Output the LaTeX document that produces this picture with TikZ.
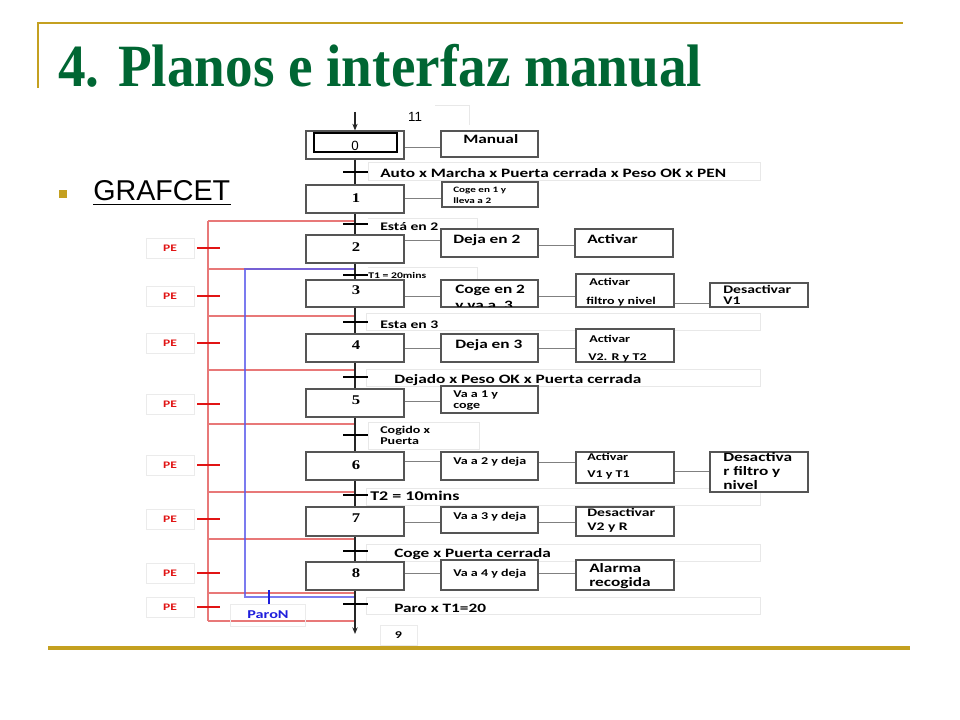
\documentclass[tikz,border=0pt]{standalone}
\usepackage{fontspec}
\setmainfont{Liberation Serif}
\newfontfamily\cbf[FakeStretch=1.35]{Carlito}
\newfontfamily\arl{Liberation Sans}
\newfontfamily\stepf[FakeStretch=1.25]{Liberation Serif}
\newfontfamily\titlef[FakeStretch=0.92]{Liberation Serif}
\usetikzlibrary{arrows.meta,fit}
\definecolor{gold}{RGB}{196,160,32}
\definecolor{tgreen}{RGB}{0,102,51}
\definecolor{redlite}{RGB}{232,120,120}
\definecolor{redtk}{RGB}{225,20,20}
\definecolor{bluelc}{RGB}{90,90,235}
\definecolor{bluetk}{RGB}{30,30,220}
\definecolor{boxc}{RGB}{85,85,85}
\newcommand{\txA}{\cbf\bfseries\fontsize{9.6}{11}\selectfont}
\newcommand{\txB}{\cbf\bfseries\fontsize{8.7}{10}\selectfont}
\newcommand{\txC}{\cbf\bfseries\fontsize{7.8}{9}\selectfont}
\newcommand{\txD}{\cbf\bfseries\fontsize{6.2}{7.5}\selectfont}
\newcommand{\txE}{\cbf\bfseries\fontsize{6.5}{8}\selectfont}
\newcommand{\txS}{\stepf\bfseries\fontsize{10}{12}\selectfont}
\begin{document}
\begin{tikzpicture}[x=0.75pt,y=-0.75pt,
  boxs/.style={draw=boxc, fill=white, line width=0.9pt, inner sep=0pt},
  faintb/.style={draw=black!9, line width=0.6pt},
  txt/.style={anchor=base west, inner sep=0pt},
  conn/.style={draw=black!50, line width=0.7pt},
  mainl/.style={draw=black!85, line width=0.9pt},
  ttick/.style={draw=black, line width=1.6pt},
  redl/.style={draw=redlite, line width=0.8pt},
  redt/.style={draw=redtk, line width=1.6pt},
  blueln/.style={draw=bluelc, line width=0.9pt},
  pebox/.style={draw=black!8, line width=0.6pt, minimum width=36pt, minimum height=15pt, inner sep=0pt, text=redtk, font=\cbf\bfseries\fontsize{7.5}{9}\selectfont},
  numlab/.style={inner sep=0pt, font=\txS},
  tip/.style={-{Stealth[length=5pt,width=4pt]}}
]
\useasboundingbox (0,0) rectangle (960,720);
\fill[white] (0,0) rectangle (960,720);

% slide decoration
\draw[gold, line width=1.6pt] (38,23) -- (903,23);
\draw[gold, line width=1.6pt] (38,22.5) -- (38,88);
\draw[gold, line width=2.4pt] (48,648) -- (910,648);
\node[anchor=base west, inner sep=0pt, text=tgreen] (title) at (58,87)
  {\titlef\bfseries\fontsize{45}{50}\selectfont 4. Planos e interfaz manual};
\fill[gold] (59,190) rectangle (67,198);
\node[anchor=base west, inner sep=0pt] (graf) at (93,201) {\arl\fontsize{21.5}{25}\selectfont GRAFCET};
\draw[line width=1.3pt] ([yshift=-2.6pt]graf.base west) -- ([yshift=-2.6pt]graf.base east);

% faint text frames of transitions
\draw[faintb] (368,162) rectangle (760,180);
\draw[faintb] (368,218) -- (477,218) -- (477,229);
\draw[faintb] (368,267) -- (477,267) -- (477,279);
\draw[faintb] (366,313) rectangle (760,330);
\draw[faintb] (366,369) rectangle (760,386);
\draw[faintb] (368,422) rectangle (479,449);
\draw[faintb] (366,488) rectangle (760,505);
\draw[faintb] (366,544) rectangle (760,561);
\draw[faintb] (366,597) rectangle (760,614);
\draw[faintb] (435,105) -- (469,105) -- (469,125);

% red emergency lines
\coordinate (rtop) at (208,221);
\coordinate (rbot) at (208,621);
\draw[redl] (rtop) -- (rbot);
\foreach \i/\yy in {1/221,2/269,3/316,4/370,5/424,6/492,7/539,8/593,9/621}{
  \coordinate (rl\i) at (208,\yy);
  \coordinate (rr\i) at (355,\yy);
  \draw[redl] (rl\i) -- (rr\i);
}
\foreach \i/\yy in {1/248,2/296,3/343,4/404,5/465,6/519,7/573,8/607}{
  \coordinate (pt\i) at (208,\yy);
  \draw[redt] ([xshift=-8.25pt]pt\i) -- ([xshift=9pt]pt\i);
  \node[pebox] (pe\i) at (170,\yy) {PE};
}

% blue ParoN loop
\coordinate (b1) at (355,269);
\coordinate (b2) at (245,269);
\coordinate (b3) at (245,597);
\coordinate (b4) at (355,597);
\draw[blueln, opacity=0.8] (b1) -- (b2) -- (b3) -- (b4);
\draw[bluetk, line width=1.8pt] (269,590) -- (269,604);
\node[draw=black!8, line width=0.6pt, minimum width=56pt, minimum height=16.5pt, inner sep=0pt, text=bluetk, font=\cbf\bfseries\fontsize{9}{10}\selectfont] (paron) at (268,615) {ParoN};

% main vertical line
\coordinate (topc) at (355,112);
\coordinate (botc) at (355,634);
\draw[mainl] (355,159) -- (355,600);

% steps
\node[boxs, fit={(306,131)(404,159)}] (S0) {};
\node[boxs, fit={(306,185)(404,213)}] (S1) {};
\node[boxs, fit={(306,235)(404,263)}] (S2) {};
\node[boxs, fit={(306,280)(404,307)}] (S3) {};
\node[boxs, fit={(306,334)(404,362)}] (S4) {};
\node[boxs, fit={(306,389)(404,417)}] (S5) {};
\node[boxs, fit={(306,452)(404,480)}] (S6) {};
\node[boxs, fit={(306,507)(404,536)}] (S7) {};
\node[boxs, fit={(306,562)(404,590)}] (S8) {};
\node[draw=black, line width=0.9pt, inner sep=0pt, fit={(314,133)(397,152)}] (S0in) {};
\node[inner sep=0pt, font=\arl\fontsize{10}{12}\selectfont] (n0) at (355,146) {0};
\node[inner sep=0pt, font=\arl\fontsize{10}{12}\selectfont] (n11) at (415,117) {11};
\node[numlab] (n1) at (356,198) {1};
\node[numlab] (n2) at (356,247) {2};
\node[numlab] (n3) at (356,290) {3};
\node[numlab] (n4) at (356,345) {4};
\node[numlab] (n5) at (356,400) {5};
\node[numlab] (n6) at (356,465) {6};
\node[numlab] (n7) at (356,518) {7};
\node[numlab] (n8) at (356,573) {8};

\draw[mainl, tip] (topc) -- (S0.north);
\draw[mainl] (S0.south) -- (S1.north);
\draw[mainl] (S8.south) -- (355,600);
\draw[mainl, tip] (355,600) -- (botc);

% transition ticks
\foreach \yy in {172,224,275,322,377,435,495,551,604}{
  \draw[ttick] (343,\yy) -- (368,\yy);
}

% action boxes
\node[boxs, fit={(441,131)(538,157)}] (A0) {};
\node[boxs, fit={(442,182)(538,207)}] (A1) {};
\node[boxs, fit={(441,229)(538,257)}] (A2a) {};
\node[boxs, fit={(575,229)(673,257)}] (A2b) {};
\node[boxs, fit={(441,280)(538,307)}] (A3a) {};
\node[boxs, fit={(576,274)(674,307)}] (A3b) {};
\node[boxs, fit={(710,283)(808,307)}] (A3c) {};
\node[boxs, fit={(441,334)(538,362)}] (A4a) {};
\node[boxs, fit={(576,329)(674,362)}] (A4b) {};
\node[boxs, fit={(441,386)(538,413)}] (A5) {};
\node[boxs, fit={(441,452)(538,480)}] (A6a) {};
\node[boxs, fit={(576,452)(674,483)}] (A6b) {};
\node[boxs, fit={(710,452)(808,492)}] (A6c) {};
\node[boxs, fit={(441,507)(538,533)}] (A7a) {};
\node[boxs, fit={(576,507)(674,536)}] (A7b) {};
\node[boxs, fit={(441,560)(538,590)}] (A8a) {};
\node[boxs, fit={(576,560)(674,590)}] (A8b) {};
\node[draw=black!8, line width=0.6pt, minimum width=27.75pt, minimum height=15pt, inner sep=0pt, font=\txC] (n9) at (398.5,635) {9};

% connectors
\draw[conn] (S0.east |- 0,147) -- (A0.west |- 0,147);
\draw[conn] (S1.east |- 0,198) -- (A1.west |- 0,198);
\draw[conn] (S2.east |- 0,240) -- (A2a.west |- 0,240);
\draw[conn] (A2a.east |- 0,245) -- (A2b.west |- 0,245);
\draw[conn] (S3.east |- 0,296) -- (A3a.west |- 0,296);
\draw[conn] (A3a.east |- 0,296) -- (A3b.west |- 0,296);
\draw[conn] (A3b.east |- 0,303) -- (A3c.west |- 0,303);
\draw[conn] (S4.east |- 0,348) -- (A4a.west |- 0,348);
\draw[conn] (A4a.east |- 0,348) -- (A4b.west |- 0,348);
\draw[conn] (S5.east |- 0,401) -- (A5.west |- 0,401);
\draw[conn] (S6.east |- 0,461) -- (A6a.west |- 0,461);
\draw[conn] (A6a.east |- 0,462) -- (A6b.west |- 0,462);
\draw[conn] (A6b.east |- 0,471) -- (A6c.west |- 0,471);
\draw[conn] (S7.east |- 0,522) -- (A7a.west |- 0,522);
\draw[conn] (A7a.east |- 0,522) -- (A7b.west |- 0,522);
\draw[conn] (S8.east |- 0,573) -- (A8a.west |- 0,573);
\draw[conn] (A8a.east |- 0,573) -- (A8b.west |- 0,573);

% action texts
\node[txt] (tA0) at (463,144) {\txA Manual};
\node[txt] (tA1a) at (453,193) {\txD Coge en 1 y};
\node[txt] (tA1b) at (453,204) {\txD lleva a 2};
\node[txt] (tA2a) at (453,244) {\txA Deja en 2};
\node[txt] (tA2b) at (587,244) {\txA Activar};
\node[txt] (tA3a) at (455,293) {\txA Coge en 2};
\begin{scope}
  \clip (441,280) rectangle (538,306.5);
  \node[txt] (tA3a2) at (455,309.5) {\txA y va a \ 3};
\end{scope}
\node[txt] (tA3b1) at (589,286) {\txC Activar};
\node[txt] (tA3b2) at (586,305) {\txC filtro y nivel};
\node[txt] (tA3c1) at (723,293) {\txB Desactivar};
\node[txt] (tA3c2) at (723,305) {\txB V1};
\node[txt] (tA4a) at (455,349) {\txA Deja en 3};
\node[txt] (tA4b1) at (589,342) {\txC Activar};
\node[txt] (tA4b2) at (588,360) {\txC V2. R y T2};
\node[txt] (tA5a) at (453,397) {\txC Va a 1 y};
\node[txt] (tA5b) at (453,408) {\txC coge};
\node[txt] (tA6a) at (453,464) {\txC Va a 2 y deja};
\node[txt] (tA6b1) at (587,460) {\txC Activar};
\node[txt] (tA6b2) at (587,477) {\txC V1 y T1};
\node[txt] (tA6c1) at (723,461) {\txA Desactiva};
\node[txt] (tA6c2) at (723,475) {\txA r filtro y};
\node[txt] (tA6c3) at (723,489) {\txA nivel};
\node[txt] (tA7a) at (453,519) {\txC Va a 3 y deja};
\node[txt] (tA7b1) at (587,516) {\txB Desactivar};
\node[txt] (tA7b2) at (587,530) {\txB V2 y R};
\node[txt] (tA8a) at (453,576) {\txC Va a 4 y deja};
\node[txt] (tA8b1) at (589,572) {\txA Alarma};
\node[txt] (tA8b2) at (589,586) {\txA recogida};

% transition texts
\node[txt] (tT0) at (380,178) {\txA Auto x Marcha x Puerta cerrada x Peso OK x PEN};
\node[txt] (tT1) at (380,231) {\txB Está en 2};
\node[txt] (tT2) at (368,279) {\txE T1 = 20mins};
\node[txt] (tT3) at (380,328) {\txB Esta en 3};
\node[txt] (tT4) at (394,383) {\txA Dejado x Peso OK x Puerta cerrada};
\node[txt] (tT5a) at (380,433) {\txC Cogido x};
\node[txt] (tT5b) at (380,444) {\txC Puerta};
\node[txt] (tT6) at (370,500) {\cbf\bfseries\fontsize{10}{12}\selectfont T2 = 10mins};
\node[txt] (tT7) at (394,557) {\txA Coge x Puerta cerrada};
\node[txt] (tT8) at (394,612) {\txA Paro x T1=20};
\end{tikzpicture}
\end{document}
